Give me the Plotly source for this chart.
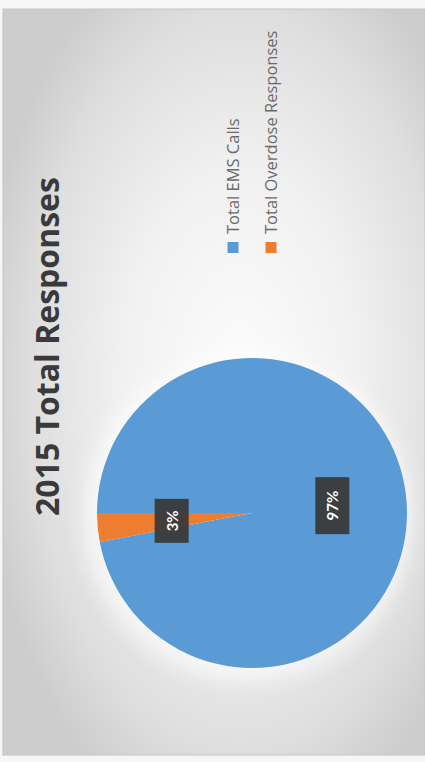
import base64
import math
import plotly.graph_objects as go

# ---- data -------------------------------------------------------------
categories = ["Total EMS Calls", "Total Overdose Responses"]
shares = [97, 3]                       # percent of all 2015 responses
colors = ["#5b9bd5", "#ed7d31"]
title_text = "2015 Total Responses"

W, H = 425, 762

# pie geometry in pixels (the whole slide is laid out turned on its side)
CX, CY, R = 252, 513, 155
LABEL_FRAC = 0.52


def px(x):
    return x / W


def py(y):
    return 1 - y / H


# soft slide background: light centre fading to grey edges, white glow round the pie
svg = f"""<svg xmlns='http://www.w3.org/2000/svg' width='{W}' height='{H}'>
<defs>
<radialGradient id='g' cx='0.56' cy='0.50' r='0.62'>
<stop offset='0' stop-color='#fcfcfc'/>
<stop offset='0.45' stop-color='#f1f1f1'/>
<stop offset='0.8' stop-color='#dedede'/>
<stop offset='1' stop-color='#cdcdcd'/>
</radialGradient>
<filter id='b' x='-20%' y='-20%' width='140%' height='140%'><feGaussianBlur stdDeviation='9'/></filter>
</defs>
<rect width='{W}' height='{H}' fill='#f6f6f6'/>
<rect x='3' y='9' width='{W-3}' height='{H-16}' fill='url(#g)' stroke='#c4c4c4' stroke-width='1'/>
<ellipse cx='{CX-4}' cy='{CY+4}' rx='{R+10}' ry='{R+10}' fill='#ffffff' opacity='0.6' filter='url(#b)'/>
</svg>"""
bg_uri = "data:image/svg+xml;base64," + base64.b64encode(svg.encode()).decode()

# slices run clockwise from 9 o'clock: EMS calls first, overdoses close the circle
order = [0, 1]
fig = go.Figure(
    go.Pie(
        labels=[categories[i] for i in order],
        values=[shares[i] for i in order],
        marker=dict(colors=[colors[i] for i in order], line=dict(width=0)),
        sort=False,
        direction="clockwise",
        rotation=-90,
        textinfo="none",
        hoverinfo="label+percent",
        showlegend=False,
        domain=dict(x=[px(CX - R), px(CX + R)], y=[py(CY + R), py(CY - R)]),
    )
)

annotations = []
shapes = []

# data labels: dark boxes placed along each slice's mid-angle
total = sum(shares)
start = 180.0  # degrees, maths convention; clockwise on screen = decreasing angle
for i in order:
    sweep = 360.0 * shares[i] / total
    mid = math.radians(start - sweep / 2)
    lx = CX + LABEL_FRAC * R * math.cos(mid)
    ly = CY - LABEL_FRAC * R * math.sin(mid)
    label = f"{shares[i]}%"
    annotations.append(dict(
        x=px(lx), y=py(ly), xref="paper", yref="paper",
        text=f"<b>{label}</b>", showarrow=False, textangle=-90,
        font=dict(family="Lato", size=15, color="white"),
        bgcolor="rgba(58,58,58,0.95)", borderpad=4,
        width=13 * len(label) + 9, height=25,
        xanchor="center", yanchor="middle",
    ))
    start -= sweep

# title
annotations.append(dict(
    x=px(47), y=py(347), xref="paper", yref="paper",
    text=f"<b>{title_text}</b>", showarrow=False, textangle=-90,
    font=dict(family="Open Sans", size=32, color="#3a3a3a"),
    xanchor="center", yanchor="middle",
))

# legend: coloured squares with labels running upward
legend_x = [233, 271]
for k, name in enumerate(categories):
    x = legend_x[k]
    shapes.append(dict(
        type="rect", xref="paper", yref="paper",
        x0=px(x - 5.5), x1=px(x + 5.5), y0=py(253), y1=py(242),
        fillcolor=colors[k], line=dict(width=0),
    ))
    annotations.append(dict(
        x=px(x), y=py(236), xref="paper", yref="paper",
        text=name, showarrow=False, textangle=-90,
        font=dict(family="Open Sans", size=16.5, color="#6a6a6a"),
        xanchor="center", yanchor="bottom",
    ))

fig.update_layout(
    width=W, height=H,
    margin=dict(l=0, r=0, t=0, b=0),
    paper_bgcolor="#f6f6f6",
    plot_bgcolor="rgba(0,0,0,0)",
    images=[dict(source=bg_uri, xref="paper", yref="paper", x=0, y=1,
                 sizex=1, sizey=1, sizing="stretch", layer="below",
                 xanchor="left", yanchor="top")],
    shapes=shapes,
    annotations=annotations,
)

fig.write_html("out.html")
